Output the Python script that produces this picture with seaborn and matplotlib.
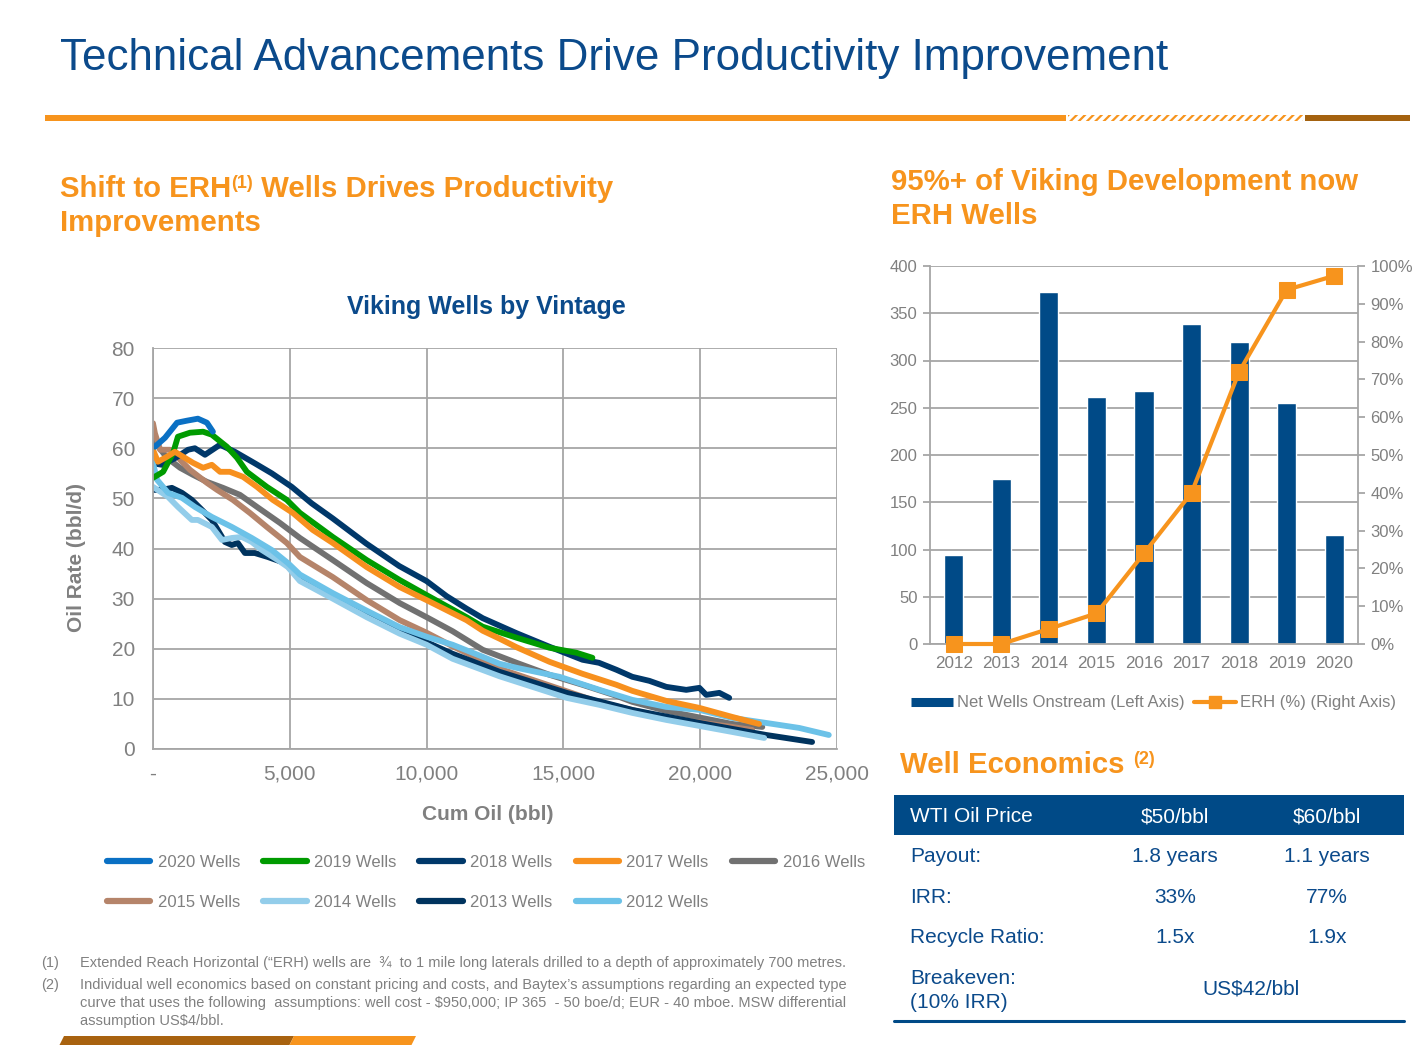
import numpy as np
import matplotlib.pyplot as plt
import seaborn as sns
from matplotlib.lines import Line2D
from matplotlib.patches import Rectangle, Polygon

# ------------------------------
# Data
# ------------------------------
# Viking wells by vintage: cumulative oil (bbl) vs oil rate (bbl/d)
cum_2020 = [70, 440, 880, 1240, 1640, 1970, 2190]
rate_2020 = [60.3, 62.1, 65.1, 65.5, 65.9, 65.1, 63.3]

cum_2019 = [0, 370, 730, 910, 1350, 1830, 2150, 2700, 3070, 3430, 4160, 4890, 5370, 6570,
            7810, 9020, 10000, 11460, 12050, 13290, 14490, 15480, 16060]
rate_2019 = [54.1, 55.3, 59.0, 62.3, 63.1, 63.3, 62.7, 60.3, 58.1, 55.3, 52.3, 49.7, 47.1, 42.3,
             37.7, 33.7, 30.7, 26.3, 24.4, 22.2, 20.2, 19.2, 18.2]

cum_2018 = [0, 330, 800, 1280, 1530, 1900, 2450, 2990, 3720, 4340, 5070, 5800, 6570, 7790,
            9000, 10000, 10730, 11460, 12050, 13290, 14490, 15700, 16300, 16940, 17520, 18140,
            18760, 19490, 19970, 20220, 20700, 21060]
rate_2018 = [57.0, 56.7, 58.0, 59.7, 60.0, 58.7, 60.7, 59.3, 57.0, 55.0, 52.3, 49.0, 46.0, 41.0,
             36.5, 33.5, 30.5, 28.0, 26.1, 23.1, 20.4, 17.8, 17.2, 15.8, 14.4, 13.6,
             12.4, 11.8, 12.2, 10.8, 11.2, 10.2]

cum_2017 = [0, 180, 510, 800, 1100, 1460, 1830, 2150, 2450, 2810, 3290, 3800, 4380, 5110,
            5840, 6570, 7810, 9020, 10000, 11460, 12050, 12670, 13290, 14490, 15700, 16940,
            17520, 18760, 19970, 21170, 22150]
rate_2017 = [59.7, 57.3, 58.3, 59.3, 58.3, 57.1, 56.1, 56.7, 55.3, 55.3, 54.3, 52.3, 49.7, 47.1,
             43.7, 41.1, 36.3, 32.3, 29.7, 25.7, 23.6, 22.0, 20.3, 17.4, 15.0, 12.8,
             11.6, 9.6, 8.2, 6.4, 5.0]

cum_2016 = [0, 510, 990, 1460, 1970, 2560, 3180, 3800, 4640, 5370, 6570, 7810, 9020, 10000,
            10950, 12050, 13290, 14490, 15700, 16940, 17520, 18760, 19970, 21170, 22270]
rate_2016 = [61.7, 58.1, 56.1, 54.7, 53.3, 52.1, 50.7, 48.3, 45.1, 42.1, 37.7, 33.1, 29.1, 26.3,
             23.5, 19.8, 17.2, 14.8, 12.8, 10.6, 9.4, 7.6, 6.3, 5.0, 4.4]

cum_2015 = [0, 70, 260, 620, 800, 990, 1350, 1970, 2340, 2920, 3540, 4160, 4890, 5370, 6570,
            7810, 9020, 10000, 10950, 12670, 14860, 16320, 18760, 21170, 21900]
rate_2015 = [65.0, 63.0, 59.7, 59.7, 59.3, 57.7, 55.7, 53.1, 51.7, 49.7, 47.1, 44.3, 41.1, 38.3,
             34.3, 29.7, 25.7, 23.2, 20.5, 16.0, 12.0, 9.3, 6.2, 4.4, 3.8]

cum_2014 = [0, 550, 910, 1420, 1640, 2150, 2520, 2880, 3250, 3610, 3980, 4560, 4930, 5370,
            6570, 7810, 9020, 10000, 10950, 12670, 15120, 16320, 17520, 18760, 19970, 21170,
            22340]
rate_2014 = [52.3, 50.3, 48.3, 45.7, 45.7, 44.3, 41.7, 42.1, 42.3, 41.3, 39.7, 37.7, 36.3, 33.5,
             30.0, 26.3, 23.0, 20.8, 18.0, 14.5, 10.2, 8.8, 7.2, 5.8, 4.6, 3.4, 2.2]

cum_2013 = [0, 330, 690, 1060, 1420, 1790, 2150, 2370, 2630, 2880, 3100, 3360, 3720, 4200,
            4820, 5370, 6570, 7810, 9020, 10000, 10950, 12670, 15120, 17520, 19970, 22410, 24090]
rate_2013 = [51.7, 51.7, 52.1, 51.1, 49.7, 47.7, 45.7, 43.7, 41.3, 40.7, 41.1, 39.1, 39.1, 38.3,
             37.1, 34.0, 30.5, 27.0, 23.5, 21.3, 19.0, 15.4, 11.2, 7.8, 5.2, 2.8, 1.4]

cum_2012 = [0, 150, 550, 1060, 1530, 2150, 2880, 3610, 4340, 4930, 5370, 6570, 7810, 9020,
            10000, 10950, 12050, 12670, 13290, 14860, 16320, 17520, 18760, 19970, 21170, 22410,
            23620, 24700]
rate_2012 = [57.0, 53.7, 51.1, 50.1, 48.3, 46.3, 44.3, 42.1, 39.7, 37.1, 34.8, 31.1, 27.6, 24.3,
             22.4, 20.8, 18.4, 17.0, 16.2, 14.4, 11.8, 9.8, 8.4, 7.8, 6.2, 5.2,
             4.2, 2.8]

cum_ticks = [0, 5000, 10000, 15000, 20000, 25000]
cum_labels = ["-", "5,000", "10,000", "15,000", "20,000", "25,000"]

# Net wells onstream and ERH share
years = ["2012", "2013", "2014", "2015", "2016", "2017", "2018", "2019", "2020"]
net_wells = [94, 175, 373, 261, 268, 339, 320, 255, 115]
erh_pct = [0.0, 0.0, 0.04, 0.081, 0.24, 0.40, 0.72, 0.937, 0.974]

# Well economics table
econ_cols = ["WTI Oil Price", "$50/bbl", "$60/bbl"]
econ_rows = [("Payout:", "1.8 years", "1.1 years"),
             ("IRR:", "33%", "77%"),
             ("Recycle Ratio:", "1.5x", "1.9x")]
breakeven = "US$42/bbl"

footnote_1 = ("Extended Reach Horizontal (\u201cERH) wells are  \u00be  to 1 mile long laterals "
              "drilled to a depth of approximately 700 metres.")
footnote_2 = ["Individual well economics based on constant pricing and costs, and Baytex\u2019s "
              "assumptions regarding an expected type",
              "curve that uses the following  assumptions: well cost - $950,000; IP 365  - 50 "
              "boe/d; EUR - 40 mboe. MSW differential",
              "assumption US$4/bbl."]

# ------------------------------
# Styling
# ------------------------------
sns.set_style("white")
plt.rcParams["font.family"] = ["Liberation Sans", "DejaVu Sans"]
plt.rcParams["hatch.linewidth"] = 1.6

ORANGE = "#F7941D"
TITLE_BLUE = "#0B4A8B"
TXT_GRAY = "#808080"
GRID = "#A6A6A6"
BAR_BLUE = "#004A87"

series = {
    "2020 Wells": (cum_2020, rate_2020, "#0A70C4"),
    "2019 Wells": (cum_2019, rate_2019, "#009B00"),
    "2018 Wells": (cum_2018, rate_2018, "#00386A"),
    "2017 Wells": (cum_2017, rate_2017, "#F7901E"),
    "2016 Wells": (cum_2016, rate_2016, "#717171"),
    "2015 Wells": (cum_2015, rate_2015, "#B5846A"),
    "2014 Wells": (cum_2014, rate_2014, "#93CDEA"),
    "2013 Wells": (cum_2013, rate_2013, "#00335E"),
    "2012 Wells": (cum_2012, rate_2012, "#6CC2E8"),
}
draw_order = ["2016 Wells", "2015 Wells", "2018 Wells", "2013 Wells", "2014 Wells",
              "2012 Wells", "2019 Wells", "2017 Wells", "2020 Wells"]

W, H = 1422, 1045
fig = plt.figure(figsize=(W / 100, H / 100), dpi=100)


def fx(x):
    return x / W


def fy(y):
    return 1 - y / H


def ftext(x, y, s, **kw):
    return fig.text(fx(x), fy(y), s, **kw)


def run_text(x, y, parts, **kw):
    # parts: (text, fontsize, raise_px); pieces drawn one after another
    renderer = fig.canvas.get_renderer()
    for s, size, dy in parts:
        t = ftext(x, y - dy, s, fontsize=size, va="baseline", **kw)
        x += t.get_window_extent(renderer=renderer).width


# ------------------------------
# Slide header
# ------------------------------
ftext(60, 70, "Technical Advancements Drive Productivity Improvement",
      fontsize=31.7, color=TITLE_BLUE, va="baseline")
fig.add_artist(Rectangle((fx(45), fy(121)), fx(1066) - fx(45), 6 / H,
                         transform=fig.transFigure, color=ORANGE, lw=0))
fig.add_artist(Rectangle((fx(1068), fy(121)), fx(1303) - fx(1068), 6 / H,
                         transform=fig.transFigure, facecolor="white", edgecolor=ORANGE,
                         hatch="////", lw=0))
fig.add_artist(Rectangle((fx(1305), fy(121)), fx(1410) - fx(1305), 6 / H,
                         transform=fig.transFigure, color="#A4620F", lw=0))

run_text(60, 197, [("Shift to ERH", 21.2, 0), ("(1)", 13, 9),
                   (" Wells Drives Productivity", 21.2, 0)],
         color=ORANGE, fontweight="bold")
ftext(60, 231, "Improvements", fontsize=21.2, color=ORANGE, fontweight="bold", va="baseline")
ftext(891, 190, "95%+ of Viking Development now", fontsize=21.2, color=ORANGE,
      fontweight="bold", va="baseline")
ftext(891, 224, "ERH Wells", fontsize=21.2, color=ORANGE, fontweight="bold", va="baseline")

# ------------------------------
# Left chart: type curves by vintage
# ------------------------------
ax = fig.add_axes([fx(153), fy(749), (837 - 153) / W, (749 - 348) / H])
for name in draw_order:
    cum, rate, col = series[name]
    sns.lineplot(x=cum, y=rate, ax=ax, color=col, lw=4.2, sort=False, estimator=None,
                 legend=False, solid_capstyle="round")
ax.set_xlim(0, 25000)
ax.set_ylim(0, 80)
ax.set_xticks(cum_ticks)
ax.set_xticklabels(cum_labels)
ax.set_yticks(range(0, 81, 10))
ax.grid(True, color=GRID, lw=1.3)
ax.set_axisbelow(True)
ax.set_xlabel("")
ax.set_ylabel("")
for s in ["top", "right"]:
    ax.spines[s].set_visible(False)
for s in ["left", "bottom"]:
    ax.spines[s].set_color(GRID)
    ax.spines[s].set_linewidth(1.3)
ax.tick_params(length=6, width=1.3, color=GRID, labelcolor=TXT_GRAY, labelsize=15)
ax.tick_params(axis="y", pad=7)
ax.tick_params(axis="x", pad=5)

ftext(486, 314, "Viking Wells by Vintage", fontsize=18, color=TITLE_BLUE,
      fontweight="bold", ha="center", va="baseline")
ftext(76, 558, "Oil Rate (bbl/d)", fontsize=15, color=TXT_GRAY, fontweight="bold",
      rotation=90, ha="center", va="center")
ftext(488, 815, "Cum Oil (bbl)", fontsize=15, color=TXT_GRAY, fontweight="bold",
      ha="center", va="center")

# legend filled row by row (matplotlib fills columns first)
legend_order = ["2020 Wells", "2015 Wells", "2019 Wells", "2014 Wells", "2018 Wells",
                "2013 Wells", "2017 Wells", "2012 Wells", "2016 Wells"]
handles = [Line2D([], [], color=series[n][2], lw=4.5, solid_capstyle="round")
           for n in legend_order]
fig.legend(handles, legend_order, loc="upper left", bbox_to_anchor=(fx(107), fy(855)),
           ncol=5, fontsize=12, handlelength=2.6, handletextpad=0.45, columnspacing=1.38,
           labelspacing=1.5, frameon=False, borderpad=0, borderaxespad=0,
           labelcolor=TXT_GRAY)

# ------------------------------
# Right chart: net wells + ERH share
# ------------------------------
axb = fig.add_axes([fx(930), fy(644), (1358 - 930) / W, (644 - 266) / H])
sns.barplot(x=years, y=net_wells, color=BAR_BLUE, saturation=1, width=0.4, ax=axb)
axb.set_xlim(-0.5, len(years) - 0.5)
axb.set_ylim(0, 400)
axb.set_yticks(range(0, 401, 50))
axb.grid(axis="y", color=GRID, lw=1.3)
axb.set_axisbelow(True)
axb.set_xlabel("")
axb.set_ylabel("")
for s in ["top", "right"]:
    axb.spines[s].set_visible(False)
for s in ["left", "bottom"]:
    axb.spines[s].set_color(GRID)
    axb.spines[s].set_linewidth(1.3)
axb.set_xticks(np.arange(-0.5, len(years), 1), minor=True)
axb.tick_params(axis="x", which="major", length=0, pad=9, labelsize=12.3, labelcolor=TXT_GRAY)
axb.tick_params(axis="x", which="minor", length=5, width=1.3, color=GRID)
axb.tick_params(axis="y", length=5, width=1.3, color=GRID, labelsize=12, labelcolor=TXT_GRAY,
                pad=4)

ax2 = axb.twinx()
sns.lineplot(x=np.arange(len(years)), y=erh_pct, ax=ax2, color=ORANGE, lw=3, marker="s",
             markersize=11, markeredgecolor=ORANGE, legend=False)
for ln in ax2.lines:
    ln.set_clip_on(False)
ax2.set_ylim(0, 1)
pct_ticks = np.arange(0, 1.01, 0.1)
ax2.set_yticks(pct_ticks)
ax2.set_yticklabels([f"{round(v * 100)}%" for v in pct_ticks])
ax2.set_ylabel("")
for s in ["top", "left", "bottom"]:
    ax2.spines[s].set_visible(False)
ax2.spines["right"].set_color(GRID)
ax2.spines["right"].set_linewidth(1.3)
ax2.tick_params(axis="y", length=5, width=1.3, color=GRID, labelsize=12, labelcolor=TXT_GRAY,
                pad=4)

fig.legend([Line2D([], [], color=BAR_BLUE, lw=6.5, solid_capstyle="butt"),
            Line2D([], [], color=ORANGE, lw=3, marker="s", markersize=8)],
           ["Net Wells Onstream (Left Axis)", "ERH (%) (Right Axis)"],
           loc="center left", bbox_to_anchor=(fx(911), fy(703)), ncol=2, fontsize=12,
           handlelength=2.5, handletextpad=0.25, columnspacing=0.6, frameon=False,
           borderpad=0, borderaxespad=0, labelcolor=TXT_GRAY)

# ------------------------------
# Well economics table
# ------------------------------
run_text(900, 773, [("Well Economics ", 21.2, 0), ("(2)", 13, 9)],
         color=ORANGE, fontweight="bold")
fig.add_artist(Rectangle((fx(894), fy(835)), fx(1404) - fx(894), 40 / H,
                         transform=fig.transFigure, color=BAR_BLUE, lw=0))
col_x = [910, 1175, 1327]
ftext(col_x[0], 822, econ_cols[0], fontsize=15, color="white", va="baseline")
for cx, s in zip(col_x[1:], econ_cols[1:]):
    ftext(cx, 822, s, fontsize=15, color="white", va="baseline", ha="center")
for ry, (lab, v50, v60) in zip([862, 903, 943], econ_rows):
    ftext(col_x[0], ry, lab, fontsize=15, color=TITLE_BLUE, va="baseline")
    ftext(col_x[1], ry, v50, fontsize=15, color=TITLE_BLUE, va="baseline", ha="center")
    ftext(col_x[2], ry, v60, fontsize=15, color=TITLE_BLUE, va="baseline", ha="center")
ftext(col_x[0], 984, "Breakeven:", fontsize=15, color=TITLE_BLUE, va="baseline")
ftext(col_x[0], 1008, "(10% IRR)", fontsize=15, color=TITLE_BLUE, va="baseline")
ftext(1251, 995, breakeven, fontsize=15, color=TITLE_BLUE, va="baseline", ha="center")
fig.add_artist(Line2D([fx(894), fx(1404)], [fy(1021), fy(1021)], transform=fig.transFigure,
                      color=BAR_BLUE, lw=2.2))

# ------------------------------
# Footnotes and footer band
# ------------------------------
ftext(41, 967, "(1)", fontsize=10.5, color=TXT_GRAY, va="baseline")
ftext(80, 967, footnote_1, fontsize=10.5, color=TXT_GRAY, va="baseline")
ftext(41, 989, "(2)", fontsize=10.5, color=TXT_GRAY, va="baseline")
for i, line in enumerate(footnote_2):
    ftext(80, 989 + 18 * i, line, fontsize=10.5, color=TXT_GRAY, va="baseline")

fig.add_artist(Polygon([(fx(64), fy(1036)), (fx(294), fy(1036)), (fx(289), fy(1046)),
                        (fx(59), fy(1046))], closed=True, transform=fig.transFigure,
                       color="#A8620F", lw=0))
fig.add_artist(Polygon([(fx(294), fy(1036)), (fx(416), fy(1036)), (fx(411), fy(1046)),
                        (fx(289), fy(1046))], closed=True, transform=fig.transFigure,
                       color=ORANGE, lw=0))

fig.savefig("out.png", dpi=100)
